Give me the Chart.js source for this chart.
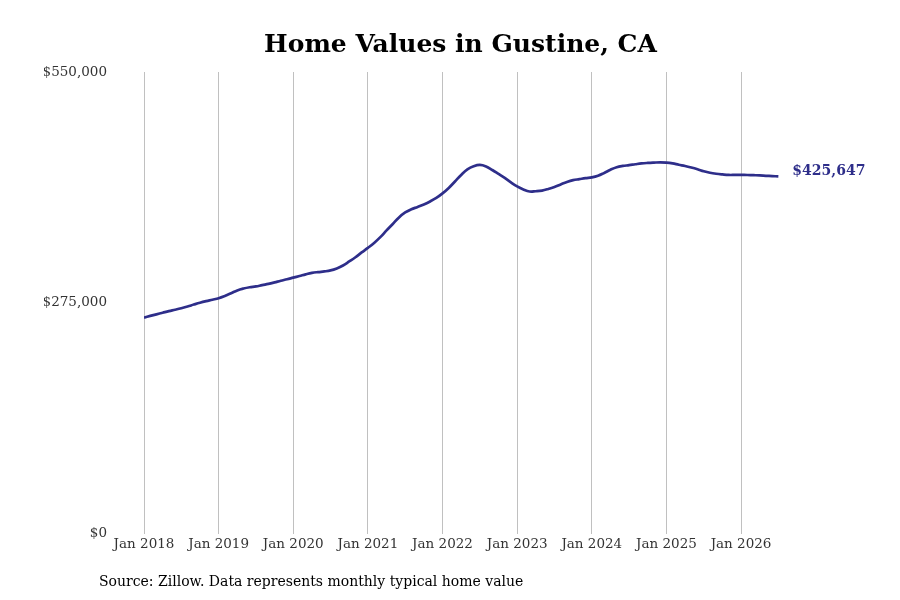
<!DOCTYPE html>
<html>
<head>
<meta charset="utf-8">
<script src="https://cdn.jsdelivr.net/npm/chart.js@4"></script>
<style>
  html, body { margin: 0; padding: 0; background: #ffffff; }
  #wrap { width: 900px; height: 600px; position: relative; }
</style>
</head>
<body>
<div id="wrap"><canvas id="c" width="900" height="600"></canvas></div>
<script>
// Monthly typical home value, Jan 2018 .. Jul 2026
const startYear = 2018;
const homeValues = [
  257500,259500,261400,263300,265200,266900,268700,270700,273000,275200,277100,278800,
  280600,283300,286500,289900,292100,293600,294600,296200,297600,299400,301400,303100,
  305100,307000,309000,310700,311700,312500,313700,316100,319600,324400,329400,335100,
  340500,346400,353300,361300,369000,376800,382700,386600,389300,392300,395800,400000,
  405400,411900,419600,427400,433900,437700,439300,437500,433300,428600,423800,418500,
  413700,410100,407700,408000,408800,410700,413100,416100,419000,421200,422400,423600,
  424500,426400,429800,433600,436600,438100,439000,440100,441100,441700,442100,442400,
  442100,441100,439500,438100,436300,434200,431800,430000,428800,428000,427400,427400,
  427400,427300,427100,426900,426400,426000,425647
];
const yTicks = [0, 275000, 550000];
const xTickLabels = ["Jan 2018","Jan 2019","Jan 2020","Jan 2021","Jan 2022","Jan 2023","Jan 2024","Jan 2025","Jan 2026"];
const titleText = "Home Values in Gustine, CA";
const sourceText = "Source: Zillow. Data represents monthly typical home value";
const endLabel = "$425,647";

const lineColor = "#2e2e8a";
const points = homeValues.map((v, i) => ({ x: i, y: v }));

const fmt = v => "$" + v.toLocaleString("en-US");

const overlay = {
  id: "overlay",
  afterDraw(chart) {
    const ctx = chart.ctx;
    const meta = chart.getDatasetMeta(0);
    const last = meta.data[meta.data.length - 1];
    ctx.save();
    ctx.fillStyle = lineColor;
    ctx.font = "bold 14px 'DejaVu Serif'";
    ctx.textAlign = "left";
    ctx.textBaseline = "middle";
    ctx.fillText(endLabel, last.x + 14, last.y - 5);
    ctx.fillStyle = "#000000";
    ctx.font = "14px 'DejaVu Serif'";
    ctx.fillText(sourceText, 99, 582);
    ctx.restore();
  }
};

new Chart(document.getElementById("c"), {
  type: "line",
  data: {
    datasets: [{
      data: points,
      borderColor: lineColor,
      borderWidth: 2.7,
      pointRadius: 0,
      tension: 0.4,
      fill: false
    }]
  },
  options: {
    responsive: false,
    animation: false,
    layout: { padding: { left: 44, right: 23, top: 0, bottom: 44 } },
    plugins: {
      legend: { display: false },
      tooltip: { enabled: false },
      title: {
        display: true,
        text: titleText,
        color: "#000000",
        font: { family: "'DejaVu Serif'", size: 25, weight: "bold" },
        padding: { top: 30, bottom: 12 }
      }
    },
    scales: {
      x: {
        type: "linear",
        min: 0,
        max: 117.86,
        afterBuildTicks(scale) {
          scale.ticks = xTickLabels.map((_, i) => ({ value: i * 12 }));
        },
        ticks: {
          autoSkip: false,
          maxRotation: 0,
          padding: 3,
          color: "#333333",
          font: { family: "'DejaVu Serif'", size: 13.5 },
          callback: (v) => xTickLabels[Math.round(v / 12)]
        },
        grid: { display: true, color: "#c0c0c0", lineWidth: 1, drawTicks: false },
        border: { display: false }
      },
      y: {
        min: 0,
        max: 550000,
        afterBuildTicks(scale) {
          scale.ticks = yTicks.map(v => ({ value: v }));
        },
        afterFit(scale) {
          scale.width = 100;
        },
        ticks: {
          padding: 37,
          color: "#333333",
          font: { family: "'DejaVu Serif'", size: 13.5 },
          callback: (v) => fmt(v)
        },
        grid: { display: false, drawTicks: false },
        border: { display: false }
      }
    }
  },
  plugins: [overlay]
});
</script>
</body>
</html>
